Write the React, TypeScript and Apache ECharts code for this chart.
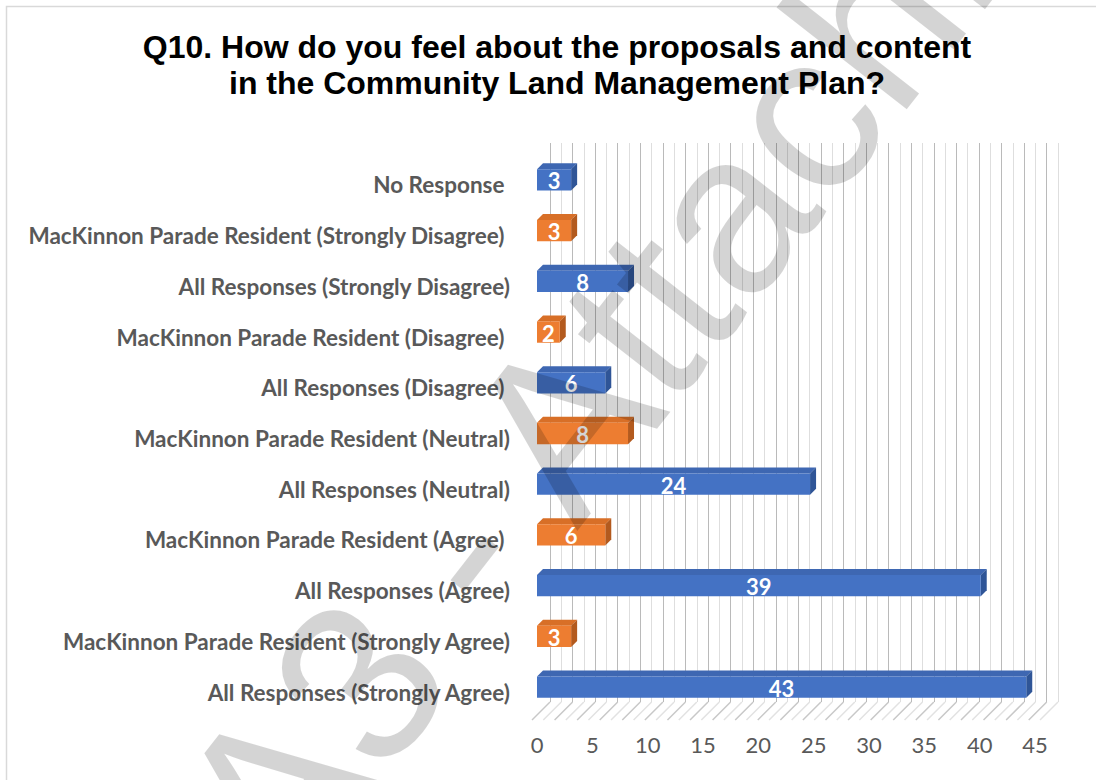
import React, { useEffect, useRef } from "react";
import * as echarts from "echarts";

const titleLines = [
  "Q10. How do you feel about the proposals and content",
  "in the Community Land Management Plan?",
];

const categories = [
  "No Response ",
  "MacKinnon Parade Resident (Strongly Disagree) ",
  "All Responses (Strongly Disagree)",
  "MacKinnon Parade Resident (Disagree) ",
  "All Responses (Disagree) ",
  "MacKinnon Parade Resident (Neutral)",
  "All Responses (Neutral)",
  "MacKinnon Parade Resident (Agree) ",
  "All Responses (Agree)",
  "MacKinnon Parade Resident (Strongly Agree)",
  "All Responses (Strongly Agree)",
];

const values = [3, 3, 8, 2, 6, 8, 24, 6, 39, 3, 43];

// 0 = all responses / no response (blue), 1 = MacKinnon Parade resident (orange)
const groups = [0, 1, 0, 1, 0, 1, 0, 1, 0, 1, 0];

const gridTicks = Array.from({ length: 46 }, (_, i) => i);

const palette = [
  { front: "#4472C4", top: "#3E67B2", side: "#2F5597" },
  { front: "#ED7D31", top: "#D86F27", side: "#B35A1E" },
];

const watermark = "A3 - Attachment";

export default function App() {
  const ref = useRef<HTMLDivElement>(null);

  useEffect(() => {
    if (!ref.current) return;
    const chart = echarts.init(ref.current, null, { renderer: "svg" });

    const option: any = {
      animation: false,
      backgroundColor: "#ffffff",
      title: {
        text: titleLines.join("\n"),
        left: 557,
        top: 29,
        textAlign: "center",
        padding: 0,
        textStyle: {
          fontFamily: "Liberation Sans",
          fontWeight: "bold",
          fontSize: 32,
          lineHeight: 36,
          color: "#000000",
        },
      },
      grid: [
        { left: 550, right: 38, top: 143, bottom: 78 },
        { left: 537, width: 512, top: 154.6, bottom: 67.6 },
        { left: 537, right: 61, top: 700, bottom: 55 },
        { left: 537, width: 512, top: 159.6, bottom: 62.6 },
      ],
      xAxis: [
        {
          gridIndex: 0,
          type: "value",
          min: 0,
          max: 45,
          interval: 1,
          axisLine: { show: false },
          axisTick: { show: false },
          axisLabel: { show: false },
          splitLine: {
            show: true,
            lineStyle: { color: ["#bababa", "#dedede"], width: 1 },
          },
        },
        {
          gridIndex: 1,
          type: "value",
          min: 0,
          max: 45,
          axisLine: { show: false },
          axisTick: { show: false },
          axisLabel: { show: false },
          splitLine: { show: false },
        },
        {
          gridIndex: 2,
          type: "value",
          min: 0,
          max: 45,
          interval: 5,
          axisLine: { show: false },
          axisTick: { show: false },
          splitLine: { show: false },
          axisLabel: {
            show: true,
            margin: 8,
            fontFamily: "Lato",
            fontSize: 22,
            color: "#595959",
          },
        },
        {
          gridIndex: 3,
          type: "value",
          min: 0,
          max: 45,
          show: false,
        },
      ],
      yAxis: [
        {
          gridIndex: 0,
          type: "value",
          min: 0,
          max: 1,
          show: false,
        },
        {
          gridIndex: 1,
          type: "category",
          data: categories,
          inverse: true,
          axisLine: { show: false },
          axisTick: { show: false },
          splitLine: { show: false },
          axisLabel: { show: false },
        },
        {
          gridIndex: 2,
          type: "value",
          show: false,
        },
        {
          gridIndex: 3,
          type: "category",
          data: categories,
          inverse: true,
          axisLine: { show: false },
          axisTick: { show: false },
          splitLine: { show: false },
          axisLabel: {
            margin: 27,
            fontFamily: "Lato",
            fontWeight: "bold",
            fontSize: 22.5,
            color: "#595959",
          },
        },
      ],
      graphic: [
        {
          type: "rect",
          silent: true,
          z: -10,
          shape: { x: 6.5, y: 6.5, width: 1300, height: 1000 },
          style: { fill: "none", stroke: "#d9d9d9", lineWidth: 1.5 },
        },
        {
          type: "text",
          silent: true,
          z: 100,
          x: 226,
          y: 852,
          rotation: (52 * Math.PI) / 180,
          style: {
            text: watermark,
            fontFamily: "Liberation Sans",
            fontSize: 228,
            fill: "rgba(0,0,0,0.17)",
            align: "left",
            verticalAlign: "middle",
          },
        },
      ],
      series: [
        {
          type: "custom",
          name: "floor",
          xAxisIndex: 0,
          yAxisIndex: 0,
          silent: true,
          data: gridTicks.map((t) => [t, 0]),
          renderItem: (params: any, api: any) => {
            const p = api.coord([api.value(0), 0]);
            const even = api.value(0) % 2 === 0;
            return {
              type: "line",
              shape: { x1: p[0], y1: p[1], x2: p[0] - 18, y2: p[1] + 18 },
              style: { stroke: even ? "#c8c8c8" : "#e2e2e2", lineWidth: 1.5 },
            };
          },
        },
        {
          type: "custom",
          name: "Responses",
          xAxisIndex: 1,
          yAxisIndex: 1,
          data: values.map((v, i) => [v, i]),
          encode: { x: 0, y: 1 },
          renderItem: (params: any, api: any) => {
            const v = api.value(0);
            const idx = api.value(1);
            const start = api.coord([0, idx]);
            const end = api.coord([v, idx]);
            const band = api.size([0, 1])[1];
            const h = band * 0.42;
            const d = 6;
            const x0 = start[0];
            const x1 = end[0];
            const yc = start[1];
            const yt = yc - h / 2;
            const yb = yc + h / 2;
            const c = palette[groups[params.dataIndex]];
            return {
              type: "group",
              children: [
                {
                  type: "polygon",
                  shape: {
                    points: [
                      [x0, yt],
                      [x0 + d, yt - d],
                      [x1 + d, yt - d],
                      [x1, yt],
                    ],
                  },
                  style: { fill: c.top },
                },
                {
                  type: "polygon",
                  shape: {
                    points: [
                      [x1, yt],
                      [x1 + d, yt - d],
                      [x1 + d, yb - d],
                      [x1, yb],
                    ],
                  },
                  style: { fill: c.side },
                },
                {
                  type: "rect",
                  shape: { x: x0, y: yt, width: x1 - x0, height: h },
                  style: { fill: c.front },
                },
                {
                  type: "text",
                  style: {
                    text: String(v),
                    x: (x0 + x1) / 2,
                    y: yc + 1,
                    align: "center",
                    verticalAlign: "middle",
                    fill: "#ffffff",
                    fontFamily: "Lato",
                    fontWeight: "bold",
                    fontSize: 22,
                  },
                },
              ],
            };
          },
        },
      ],
    };

    chart.setOption(option);
    return () => chart.dispose();
  }, []);

  return (
    <div
      ref={ref}
      style={{ position: "fixed", left: 0, top: 0, width: 1096, height: 780 }}
    />
  );
}
